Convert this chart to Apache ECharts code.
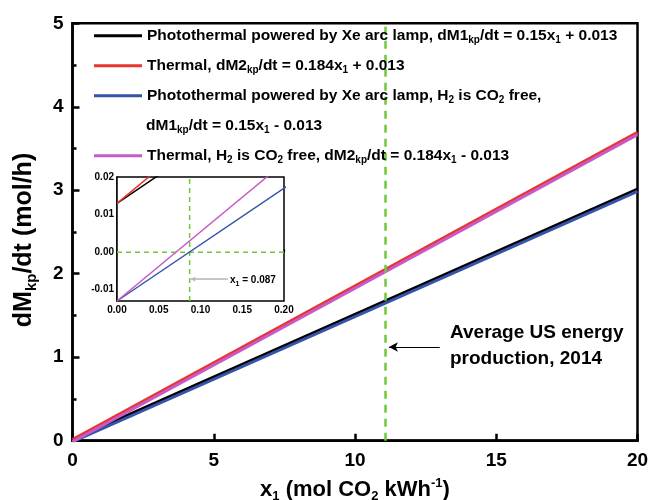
<!DOCTYPE html>
<html>
<head>
<meta charset="utf-8">
<script src="https://cdn.jsdelivr.net/npm/echarts@6/dist/echarts.min.js"></script>
<style>
  html, body { margin: 0; padding: 0; background: #fff; }
  #chart { width: 649px; height: 500px; }
</style>
</head>
<body>
<div id="chart"></div>
<script>
// endpoints of each straight line (x1 = 0 and x1 = 20)
const xEnds = [0, 20];
const photoPlus = [0.013, 3.013];
const thermalPlus = [0.013, 3.693];
const photoMinus = [-0.013, 2.987];
const thermalMinus = [-0.013, 3.667];

// dashed reference lines
const usAverageX = 11.08;
const crossX = 0.087;

const mainXTicks = [0, 5, 10, 15, 20];
const insetYTicks = [-0.01, 0, 0.01, 0.02];
const insetYMinor = [-0.005, 0.005, 0.015];

const FONT = "'Liberation Sans', Arial, sans-serif";
const GREEN = "#6fc93a";

const names = ["photoPlus", "thermalPlus", "photoMinus", "thermalMinus"];
const labels = {
  photoPlus: "Photothermal powered by Xe arc lamp, dM1{s|kp}/dt = 0.15x{s|1} + 0.013",
  thermalPlus: "Thermal, dM2{s|kp}/dt = 0.184x{s|1} + 0.013",
  photoMinus: "Photothermal powered by Xe arc lamp, H{s|2} is CO{s|2} free,",
  thermalMinus: "Thermal, H{s|2} is CO{s|2} free, dM2{s|kp}/dt = 0.184x{s|1} - 0.013"
};
const colors = ["#000000", "#e8332e", "#3553a8", "#c75ac6"];
const values = [photoPlus, thermalPlus, photoMinus, thermalMinus];

function pairs(xs, ys) {
  return xs.map((x, i) => [x, ys[i]]);
}

const subRich = (size, lh) => ({
  s: { fontFamily: FONT, fontWeight: "bold", fontSize: size, lineHeight: lh, verticalAlign: "bottom", color: "#000" },
  p: { fontFamily: FONT, fontWeight: "bold", fontSize: size, lineHeight: lh, verticalAlign: "top", color: "#000" }
});

const legendText = {
  fontFamily: FONT,
  fontSize: 15.5,
  fontWeight: "bold",
  color: "#000",
  lineHeight: 20,
  rich: subRich(10, 10)
};

const chart = echarts.init(document.getElementById("chart"));

const series = [];
values.forEach((v, i) => {
  series.push({
    name: names[i],
    type: "line",
    xAxisIndex: 0,
    yAxisIndex: 0,
    data: pairs(xEnds, v),
    showSymbol: false,
    color: colors[i],
    lineStyle: { width: 3, color: colors[i] },
    animation: false
  });
});
values.forEach((v, i) => {
  series.push({
    name: names[i],
    type: "line",
    xAxisIndex: 1,
    yAxisIndex: 1,
    data: pairs(xEnds, v),
    showSymbol: false,
    color: colors[i],
    lineStyle: { width: 1.5, color: colors[i] },
    animation: false,
    z: 5
  });
});
// main dashed line + arrow
series.push({
  type: "line",
  xAxisIndex: 0,
  yAxisIndex: 0,
  data: [[usAverageX, 0], [usAverageX, 5]],
  showSymbol: false,
  lineStyle: { width: 2.5, color: GREEN, type: [8, 6] },
  animation: false,
  markLine: {
    silent: true,
    symbol: ["none", "arrow"],
    symbolSize: [7, 9],
    label: { show: false },
    lineStyle: { color: "#000", width: 1, type: "solid" },
    data: [[{ coord: [13.0, 1.122] }, { coord: [11.2, 1.122] }]]
  }
});
// inset dashed lines + arrow
series.push({
  type: "line",
  xAxisIndex: 1,
  yAxisIndex: 1,
  data: [[crossX, -0.013], [crossX, 0.02]],
  showSymbol: false,
  lineStyle: { width: 1.5, color: GREEN, type: [5, 4] },
  animation: false,
  z: 4,
  markLine: {
    silent: true,
    symbol: ["none", "arrow"],
    symbolSize: [4, 5],
    label: { show: false },
    lineStyle: { color: "#b5b5b5", width: 1.5, type: "solid" },
    data: [[{ coord: [0.133, -0.0072] }, { coord: [0.0885, -0.0072] }]]
  }
});
series.push({
  type: "line",
  xAxisIndex: 1,
  yAxisIndex: 1,
  data: [[0, 0], [0.2, 0]],
  showSymbol: false,
  lineStyle: { width: 1.5, color: GREEN, type: [5, 4] },
  animation: false,
  z: 4
});

const option = {
  backgroundColor: "#fff",
  animation: false,
  textStyle: { fontFamily: FONT },
  grid: [
    { left: 72.5, right: 11.5, top: 23.3, bottom: 59.3, outerBoundsMode: "none", show: true, borderColor: "#000", borderWidth: 2.5, backgroundColor: "#fff" },
    { left: 117, top: 177, width: 167, height: 124, outerBoundsMode: "none", show: true, borderColor: "#000", borderWidth: 1.5, backgroundColor: "#fff", z: 3 }
  ],
  legend: [
    {
      data: names.slice(0, 3),
      orient: "vertical",
      left: 94,
      top: 25.7,
      padding: 0,
      itemGap: 10,
      itemWidth: 48,
      itemHeight: 3,
      icon: "rect",
      selectedMode: false,
      textStyle: legendText,
      formatter: n => labels[n]
    },
    {
      data: names.slice(3),
      orient: "vertical",
      left: 94,
      top: 145.7,
      padding: 0,
      itemWidth: 48,
      itemHeight: 3,
      icon: "rect",
      selectedMode: false,
      textStyle: legendText,
      formatter: n => labels[n]
    }
  ],
  xAxis: [
    {
      type: "value",
      gridIndex: 0,
      min: 0,
      max: 20,
      interval: 5,
      name: "x{s|1} (mol CO{s|2} kWh{p|-1})",
      nameLocation: "middle",
      nameGap: 36,
      nameTextStyle: { fontFamily: FONT, fontSize: 22, fontWeight: "bold", color: "#000", lineHeight: 26, rich: subRich(13, 12) },
      axisLine: { lineStyle: { color: "#000", width: 2.5 } },
      axisTick: { inside: true, length: 7, lineStyle: { color: "#000", width: 2.5 } },
      axisLabel: { fontFamily: FONT, fontSize: 19, fontWeight: "bold", color: "#000", margin: 11, customValues: mainXTicks },
      splitLine: { show: false }
    },
    {
      type: "value",
      gridIndex: 1,
      min: 0,
      max: 0.2,
      interval: 0.05,
      axisLine: { lineStyle: { color: "#000", width: 1.5 } },
      axisTick: { inside: true, length: 3, lineStyle: { color: "#000", width: 1.2 } },
      minorTick: { show: true, splitNumber: 2, length: 2, lineStyle: { color: "#000", width: 1 } },
      axisLabel: { fontFamily: FONT, fontSize: 10, fontWeight: "bold", color: "#000", margin: 4, formatter: v => v.toFixed(2) },
      splitLine: { show: false }
    }
  ],
  yAxis: [
    {
      type: "value",
      gridIndex: 0,
      min: 0,
      max: 5,
      interval: 1,
      name: "dM{s|kp}/dt (mol/h)",
      nameLocation: "middle",
      nameRotate: 90,
      nameGap: 33,
      nameTextStyle: { fontFamily: FONT, fontSize: 25, fontWeight: "bold", color: "#000", lineHeight: 30, padding: [0, 16, 0, 0], rich: subRich(15, 14) },
      axisLine: { lineStyle: { color: "#000", width: 2.5 } },
      axisTick: { inside: true, length: 7, lineStyle: { color: "#000", width: 2.5 } },
      minorTick: { show: true, splitNumber: 2, length: 4, lineStyle: { color: "#000", width: 2.5 } },
      axisLabel: { fontFamily: FONT, fontSize: 19, fontWeight: "bold", color: "#000", margin: 9 },
      splitLine: { show: false }
    },
    {
      type: "value",
      gridIndex: 1,
      min: -0.013,
      max: 0.02,
      axisLine: { lineStyle: { color: "#000", width: 1.5 } },
      axisTick: { inside: true, length: 3, customValues: insetYTicks, lineStyle: { color: "#000", width: 1.2 } },
      axisLabel: { fontFamily: FONT, fontSize: 10, fontWeight: "bold", color: "#000", margin: 3, customValues: insetYTicks, formatter: v => v.toFixed(2) },
      splitLine: { show: false }
    },
    {
      type: "value",
      gridIndex: 1,
      min: -0.013,
      max: 0.02,
      axisLine: { show: false },
      axisTick: { inside: true, length: 2, customValues: insetYMinor, lineStyle: { color: "#000", width: 1 } },
      axisLabel: { show: false, customValues: insetYMinor },
      splitLine: { show: false }
    }
  ],
  graphic: [
    {
      type: "text",
      left: 146,
      top: 115.7,
      style: {
        text: "dM1{s|kp}/dt = 0.15x{s|1} - 0.013",
        font: "bold 15.5px " + FONT,
        fill: "#000",
        lineHeight: 20,
        rich: subRich(10, 10)
      }
    },
    {
      type: "text",
      left: 450,
      top: 320,
      style: {
        text: "Average US energy\nproduction, 2014",
        font: "bold 19px " + FONT,
        fill: "#000",
        lineHeight: 26
      }
    },
    {
      type: "text",
      left: 230,
      top: 272,
      z: 10,
      style: {
        text: "x{s|1} = 0.087",
        font: "bold 10px " + FONT,
        fill: "#000",
        lineHeight: 16,
        rich: subRich(7, 7)
      }
    }
  ],
  series: series
};

chart.setOption(option);
</script>
</body>
</html>
